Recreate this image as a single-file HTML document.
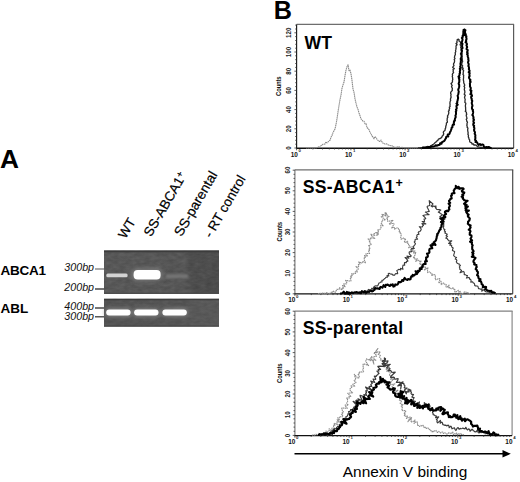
<!DOCTYPE html>
<html><head><meta charset="utf-8"><style>
html,body{margin:0;padding:0;background:#fff;overflow:hidden;}
svg{display:block;font-family:"Liberation Sans",sans-serif;}
</style></head><body>
<svg width="520" height="482" viewBox="0 0 520 482">
<rect width="520" height="482" fill="#fff"/>
<text x="0" y="168.2" font-size="26.3" font-weight="bold">A</text>
<text x="273.8" y="18.8" font-size="25.2" font-weight="bold">B</text>
<text transform="translate(125.6,239.5) rotate(-60)" font-size="13.4" fill="#000" stroke="#000" stroke-width="0.2">WT</text>
<text transform="translate(151.1,237.6) rotate(-60)" font-size="13.4" fill="#000" stroke="#000" stroke-width="0.2">SS-ABCA1<tspan dy="-3.8" font-size="9.5">+</tspan></text>
<text transform="translate(181.6,237.3) rotate(-60)" font-size="13.7" fill="#000" stroke="#000" stroke-width="0.2">SS-parental</text>
<text transform="translate(211.2,238.8) rotate(-60)" font-size="13.4" fill="#000" stroke="#000" stroke-width="0.2">- RT control</text>
<text x="0.6" y="275.2" font-size="13.5" font-weight="bold" letter-spacing="-0.3">ABCA1</text>
<text x="0.6" y="313.2" font-size="13.5" font-weight="bold" letter-spacing="-0.1">ABL</text>
<text x="64.3" y="271.2" font-size="10.7" font-style="italic" fill="#111">300bp</text>
<line x1="95" y1="269" x2="104" y2="269" stroke="#7a7a7a" stroke-width="1.3"/>
<text x="64.3" y="291.2" font-size="10.7" font-style="italic" fill="#111">200bp</text>
<line x1="95" y1="289" x2="104" y2="289" stroke="#2a2a2a" stroke-width="1.3"/>
<text x="64.3" y="309.6" font-size="10.7" font-style="italic" fill="#111">400bp</text>
<line x1="95" y1="308" x2="104" y2="308" stroke="#2a2a2a" stroke-width="1.3"/>
<text x="64.3" y="319.8" font-size="10.7" font-style="italic" fill="#111">300bp</text>
<line x1="95" y1="316.8" x2="104" y2="316.8" stroke="#3a3a3a" stroke-width="1.3"/>
<defs>
<filter id="b1" x="-50%" y="-100%" width="200%" height="300%"><feGaussianBlur stdDeviation="1.2"/></filter>
<filter id="b2" x="-50%" y="-100%" width="200%" height="300%"><feGaussianBlur stdDeviation="0.8"/></filter>
<filter id="b3" x="-50%" y="-100%" width="200%" height="300%"><feGaussianBlur stdDeviation="2"/></filter>
<filter id="tex" x="0" y="0" width="100%" height="100%" color-interpolation-filters="sRGB"><feTurbulence type="fractalNoise" baseFrequency="0.16 0.3" numOctaves="2" seed="11" result="n"/><feColorMatrix in="n" type="matrix" values="1 0 0 0 0  1 0 0 0 0  1 0 0 0 0  0 0 0 0 1"/></filter>
<filter id="b4" x="-50%" y="-100%" width="200%" height="300%"><feGaussianBlur stdDeviation="0.55"/></filter>
<linearGradient id="g1" x1="104" y1="0" x2="219" y2="0" gradientUnits="userSpaceOnUse">
<stop offset="0" stop-color="#545454"/><stop offset="0.7" stop-color="#525252"/><stop offset="0.76" stop-color="#494949"/><stop offset="1" stop-color="#484848"/></linearGradient>
<linearGradient id="g2" x1="104" y1="0" x2="219" y2="0" gradientUnits="userSpaceOnUse">
<stop offset="0" stop-color="#505050"/><stop offset="0.7" stop-color="#515151"/><stop offset="0.76" stop-color="#555"/><stop offset="1" stop-color="#565656"/></linearGradient>
</defs>
<rect x="104" y="250.5" width="115" height="43.3" fill="url(#g1)"/>
<rect x="104" y="250.5" width="115" height="43.3" filter="url(#tex)" opacity="0.09"/>
<rect x="104" y="250.5" width="115" height="1.8" fill="#3c3c3c"/>
<rect x="104" y="292.8" width="115" height="1" fill="#454545"/>
<rect x="104" y="298.8" width="115" height="27.8" fill="url(#g2)"/>
<rect x="104" y="298.8" width="115" height="27.8" filter="url(#tex)" opacity="0.07"/>
<rect x="104" y="298.8" width="115" height="1.4" fill="#3c3c3c"/>
<rect x="104" y="325.6" width="115" height="1" fill="#454545"/>
<rect x="106.3" y="273.5" width="21.3" height="3.7" rx="1.5" fill="#d2d2d2" filter="url(#b4)"/>
<rect x="131.5" y="268.5" width="31" height="12" rx="5" fill="#7a7a7a" filter="url(#b3)"/>
<rect x="133.6" y="270" width="27" height="9.5" rx="4" fill="#fff" filter="url(#b4)"/>
<rect x="165.5" y="274.2" width="23" height="4" rx="2" fill="#747474" filter="url(#b1)"/>
<rect x="105.2" y="308.5" width="26.5" height="8" rx="4" fill="#888" filter="url(#b3)"/>
<rect x="106.2" y="309.6" width="24.4" height="6" rx="3" fill="#fff" filter="url(#b4)"/>
<rect x="133.1" y="308.5" width="26.5" height="8" rx="4" fill="#888" filter="url(#b3)"/>
<rect x="134.1" y="309.6" width="24.4" height="6" rx="3" fill="#fff" filter="url(#b4)"/>
<rect x="161.4" y="308.5" width="26.5" height="8" rx="4" fill="#888" filter="url(#b3)"/>
<rect x="162.4" y="309.6" width="24.4" height="6" rx="3" fill="#fff" filter="url(#b4)"/>
<line x1="296.6" y1="24.4" x2="514.1" y2="24.4" stroke="#6e6e6e" stroke-width="1.25"/>
<line x1="513.6" y1="24.4" x2="513.6" y2="148.1" stroke="#5a5a5a" stroke-width="1.2"/>
<line x1="296.6" y1="24.4" x2="296.6" y2="148.1" stroke="#1a1a1a" stroke-width="1.15"/>
<line x1="296.1" y1="148.25" x2="513.6" y2="148.25" stroke="#111" stroke-width="1.35"/>
<line x1="294.4" y1="148.0" x2="296.6" y2="148.0" stroke="#333" stroke-width="0.8"/>
<line x1="295.2" y1="144.2" x2="296.6" y2="144.2" stroke="#333" stroke-width="0.8"/>
<line x1="295.2" y1="140.3" x2="296.6" y2="140.3" stroke="#333" stroke-width="0.8"/>
<line x1="295.2" y1="136.5" x2="296.6" y2="136.5" stroke="#333" stroke-width="0.8"/>
<line x1="295.2" y1="132.6" x2="296.6" y2="132.6" stroke="#333" stroke-width="0.8"/>
<line x1="294.4" y1="128.8" x2="296.6" y2="128.8" stroke="#333" stroke-width="0.8"/>
<line x1="295.2" y1="125.0" x2="296.6" y2="125.0" stroke="#333" stroke-width="0.8"/>
<line x1="295.2" y1="121.1" x2="296.6" y2="121.1" stroke="#333" stroke-width="0.8"/>
<line x1="295.2" y1="117.3" x2="296.6" y2="117.3" stroke="#333" stroke-width="0.8"/>
<line x1="295.2" y1="113.4" x2="296.6" y2="113.4" stroke="#333" stroke-width="0.8"/>
<line x1="294.4" y1="109.6" x2="296.6" y2="109.6" stroke="#333" stroke-width="0.8"/>
<line x1="295.2" y1="105.8" x2="296.6" y2="105.8" stroke="#333" stroke-width="0.8"/>
<line x1="295.2" y1="101.9" x2="296.6" y2="101.9" stroke="#333" stroke-width="0.8"/>
<line x1="295.2" y1="98.1" x2="296.6" y2="98.1" stroke="#333" stroke-width="0.8"/>
<line x1="295.2" y1="94.2" x2="296.6" y2="94.2" stroke="#333" stroke-width="0.8"/>
<line x1="294.4" y1="90.4" x2="296.6" y2="90.4" stroke="#333" stroke-width="0.8"/>
<line x1="295.2" y1="86.6" x2="296.6" y2="86.6" stroke="#333" stroke-width="0.8"/>
<line x1="295.2" y1="82.7" x2="296.6" y2="82.7" stroke="#333" stroke-width="0.8"/>
<line x1="295.2" y1="78.9" x2="296.6" y2="78.9" stroke="#333" stroke-width="0.8"/>
<line x1="295.2" y1="75.0" x2="296.6" y2="75.0" stroke="#333" stroke-width="0.8"/>
<line x1="294.4" y1="71.2" x2="296.6" y2="71.2" stroke="#333" stroke-width="0.8"/>
<line x1="295.2" y1="67.4" x2="296.6" y2="67.4" stroke="#333" stroke-width="0.8"/>
<line x1="295.2" y1="63.5" x2="296.6" y2="63.5" stroke="#333" stroke-width="0.8"/>
<line x1="295.2" y1="59.7" x2="296.6" y2="59.7" stroke="#333" stroke-width="0.8"/>
<line x1="295.2" y1="55.8" x2="296.6" y2="55.8" stroke="#333" stroke-width="0.8"/>
<line x1="294.4" y1="52.0" x2="296.6" y2="52.0" stroke="#333" stroke-width="0.8"/>
<line x1="295.2" y1="48.2" x2="296.6" y2="48.2" stroke="#333" stroke-width="0.8"/>
<line x1="295.2" y1="44.3" x2="296.6" y2="44.3" stroke="#333" stroke-width="0.8"/>
<line x1="295.2" y1="40.5" x2="296.6" y2="40.5" stroke="#333" stroke-width="0.8"/>
<line x1="295.2" y1="36.6" x2="296.6" y2="36.6" stroke="#333" stroke-width="0.8"/>
<line x1="294.4" y1="32.8" x2="296.6" y2="32.8" stroke="#333" stroke-width="0.8"/>
<line x1="295.2" y1="29.0" x2="296.6" y2="29.0" stroke="#333" stroke-width="0.8"/>
<line x1="295.2" y1="25.1" x2="296.6" y2="25.1" stroke="#333" stroke-width="0.8"/>
<text transform="translate(290.5,148.0) rotate(-90) scale(1,1.2)" text-anchor="middle" font-size="6.2" font-weight="bold" fill="#222">0</text>
<text transform="translate(290.5,128.8) rotate(-90) scale(1,1.2)" text-anchor="middle" font-size="6.2" font-weight="bold" fill="#222">20</text>
<text transform="translate(290.5,109.6) rotate(-90) scale(1,1.2)" text-anchor="middle" font-size="6.2" font-weight="bold" fill="#222">40</text>
<text transform="translate(290.5,90.4) rotate(-90) scale(1,1.2)" text-anchor="middle" font-size="6.2" font-weight="bold" fill="#222">60</text>
<text transform="translate(290.5,71.2) rotate(-90) scale(1,1.2)" text-anchor="middle" font-size="6.2" font-weight="bold" fill="#222">80</text>
<text transform="translate(290.5,52.0) rotate(-90) scale(1,1.2)" text-anchor="middle" font-size="6.2" font-weight="bold" fill="#222">100</text>
<text transform="translate(290.5,32.8) rotate(-90) scale(1,1.2)" text-anchor="middle" font-size="6.2" font-weight="bold" fill="#222">120</text>
<text transform="translate(280.8,86.2) rotate(-90) scale(1,1.3)" text-anchor="middle" font-size="5.9" font-weight="bold" letter-spacing="-0.15" fill="#111">Counts</text>
<line x1="296.6" y1="148.1" x2="296.6" y2="150.29999999999998" stroke="#333" stroke-width="0.8"/>
<line x1="312.9" y1="148.1" x2="312.9" y2="149.5" stroke="#333" stroke-width="0.8"/>
<line x1="322.5" y1="148.1" x2="322.5" y2="149.5" stroke="#333" stroke-width="0.8"/>
<line x1="329.3" y1="148.1" x2="329.3" y2="149.5" stroke="#333" stroke-width="0.8"/>
<line x1="334.5" y1="148.1" x2="334.5" y2="149.5" stroke="#333" stroke-width="0.8"/>
<line x1="338.8" y1="148.1" x2="338.8" y2="149.5" stroke="#333" stroke-width="0.8"/>
<line x1="342.4" y1="148.1" x2="342.4" y2="149.5" stroke="#333" stroke-width="0.8"/>
<line x1="345.6" y1="148.1" x2="345.6" y2="149.5" stroke="#333" stroke-width="0.8"/>
<line x1="348.4" y1="148.1" x2="348.4" y2="149.5" stroke="#333" stroke-width="0.8"/>
<line x1="350.9" y1="148.1" x2="350.9" y2="150.29999999999998" stroke="#333" stroke-width="0.8"/>
<line x1="367.2" y1="148.1" x2="367.2" y2="149.5" stroke="#333" stroke-width="0.8"/>
<line x1="376.7" y1="148.1" x2="376.7" y2="149.5" stroke="#333" stroke-width="0.8"/>
<line x1="383.5" y1="148.1" x2="383.5" y2="149.5" stroke="#333" stroke-width="0.8"/>
<line x1="388.8" y1="148.1" x2="388.8" y2="149.5" stroke="#333" stroke-width="0.8"/>
<line x1="393.1" y1="148.1" x2="393.1" y2="149.5" stroke="#333" stroke-width="0.8"/>
<line x1="396.7" y1="148.1" x2="396.7" y2="149.5" stroke="#333" stroke-width="0.8"/>
<line x1="399.8" y1="148.1" x2="399.8" y2="149.5" stroke="#333" stroke-width="0.8"/>
<line x1="402.6" y1="148.1" x2="402.6" y2="149.5" stroke="#333" stroke-width="0.8"/>
<line x1="405.1" y1="148.1" x2="405.1" y2="150.29999999999998" stroke="#333" stroke-width="0.8"/>
<line x1="421.4" y1="148.1" x2="421.4" y2="149.5" stroke="#333" stroke-width="0.8"/>
<line x1="431.0" y1="148.1" x2="431.0" y2="149.5" stroke="#333" stroke-width="0.8"/>
<line x1="437.8" y1="148.1" x2="437.8" y2="149.5" stroke="#333" stroke-width="0.8"/>
<line x1="443.0" y1="148.1" x2="443.0" y2="149.5" stroke="#333" stroke-width="0.8"/>
<line x1="447.3" y1="148.1" x2="447.3" y2="149.5" stroke="#333" stroke-width="0.8"/>
<line x1="450.9" y1="148.1" x2="450.9" y2="149.5" stroke="#333" stroke-width="0.8"/>
<line x1="454.1" y1="148.1" x2="454.1" y2="149.5" stroke="#333" stroke-width="0.8"/>
<line x1="456.9" y1="148.1" x2="456.9" y2="149.5" stroke="#333" stroke-width="0.8"/>
<line x1="459.4" y1="148.1" x2="459.4" y2="150.29999999999998" stroke="#333" stroke-width="0.8"/>
<line x1="475.7" y1="148.1" x2="475.7" y2="149.5" stroke="#333" stroke-width="0.8"/>
<line x1="485.2" y1="148.1" x2="485.2" y2="149.5" stroke="#333" stroke-width="0.8"/>
<line x1="492.0" y1="148.1" x2="492.0" y2="149.5" stroke="#333" stroke-width="0.8"/>
<line x1="497.3" y1="148.1" x2="497.3" y2="149.5" stroke="#333" stroke-width="0.8"/>
<line x1="501.6" y1="148.1" x2="501.6" y2="149.5" stroke="#333" stroke-width="0.8"/>
<line x1="505.2" y1="148.1" x2="505.2" y2="149.5" stroke="#333" stroke-width="0.8"/>
<line x1="508.3" y1="148.1" x2="508.3" y2="149.5" stroke="#333" stroke-width="0.8"/>
<line x1="511.1" y1="148.1" x2="511.1" y2="149.5" stroke="#333" stroke-width="0.8"/>
<text x="294.2" y="156.7" text-anchor="middle" font-size="6.4" font-weight="bold" fill="#111">10</text><text x="298.6" y="152.0" font-size="4.3" font-weight="bold" fill="#222">0</text>
<text x="348.5" y="156.7" text-anchor="middle" font-size="6.4" font-weight="bold" fill="#111">10</text><text x="352.9" y="152.0" font-size="4.3" font-weight="bold" fill="#222">1</text>
<text x="402.7" y="156.7" text-anchor="middle" font-size="6.4" font-weight="bold" fill="#111">10</text><text x="407.1" y="152.0" font-size="4.3" font-weight="bold" fill="#222">2</text>
<text x="457.0" y="156.7" text-anchor="middle" font-size="6.4" font-weight="bold" fill="#111">10</text><text x="461.4" y="152.0" font-size="4.3" font-weight="bold" fill="#222">3</text>
<text x="511.2" y="156.7" text-anchor="middle" font-size="6.4" font-weight="bold" fill="#111">10</text><text x="515.6" y="152.0" font-size="4.3" font-weight="bold" fill="#222">4</text>
<text x="304.4" y="48.7" font-size="17.6" font-weight="bold" letter-spacing="0.28" fill="#000">WT</text>
<line x1="294.9" y1="169.8" x2="513.2" y2="169.8" stroke="#6e6e6e" stroke-width="1.25"/>
<line x1="512.7" y1="169.8" x2="512.7" y2="293.7" stroke="#4a4a4a" stroke-width="1.2"/>
<line x1="294.9" y1="169.8" x2="294.9" y2="293.7" stroke="#777" stroke-width="1.15"/>
<line x1="294.4" y1="293.84999999999997" x2="512.7" y2="293.84999999999997" stroke="#111" stroke-width="1.35"/>
<line x1="292.7" y1="293.8" x2="294.9" y2="293.8" stroke="#333" stroke-width="0.8"/>
<line x1="293.5" y1="289.7" x2="294.9" y2="289.7" stroke="#333" stroke-width="0.8"/>
<line x1="293.5" y1="285.6" x2="294.9" y2="285.6" stroke="#333" stroke-width="0.8"/>
<line x1="293.5" y1="281.4" x2="294.9" y2="281.4" stroke="#333" stroke-width="0.8"/>
<line x1="293.5" y1="277.3" x2="294.9" y2="277.3" stroke="#333" stroke-width="0.8"/>
<line x1="292.7" y1="273.2" x2="294.9" y2="273.2" stroke="#333" stroke-width="0.8"/>
<line x1="293.5" y1="269.1" x2="294.9" y2="269.1" stroke="#333" stroke-width="0.8"/>
<line x1="293.5" y1="265.0" x2="294.9" y2="265.0" stroke="#333" stroke-width="0.8"/>
<line x1="293.5" y1="260.8" x2="294.9" y2="260.8" stroke="#333" stroke-width="0.8"/>
<line x1="293.5" y1="256.7" x2="294.9" y2="256.7" stroke="#333" stroke-width="0.8"/>
<line x1="292.7" y1="252.6" x2="294.9" y2="252.6" stroke="#333" stroke-width="0.8"/>
<line x1="293.5" y1="248.5" x2="294.9" y2="248.5" stroke="#333" stroke-width="0.8"/>
<line x1="293.5" y1="244.4" x2="294.9" y2="244.4" stroke="#333" stroke-width="0.8"/>
<line x1="293.5" y1="240.2" x2="294.9" y2="240.2" stroke="#333" stroke-width="0.8"/>
<line x1="293.5" y1="236.1" x2="294.9" y2="236.1" stroke="#333" stroke-width="0.8"/>
<line x1="292.7" y1="232.0" x2="294.9" y2="232.0" stroke="#333" stroke-width="0.8"/>
<line x1="293.5" y1="227.9" x2="294.9" y2="227.9" stroke="#333" stroke-width="0.8"/>
<line x1="293.5" y1="223.8" x2="294.9" y2="223.8" stroke="#333" stroke-width="0.8"/>
<line x1="293.5" y1="219.6" x2="294.9" y2="219.6" stroke="#333" stroke-width="0.8"/>
<line x1="293.5" y1="215.5" x2="294.9" y2="215.5" stroke="#333" stroke-width="0.8"/>
<line x1="292.7" y1="211.4" x2="294.9" y2="211.4" stroke="#333" stroke-width="0.8"/>
<line x1="293.5" y1="207.3" x2="294.9" y2="207.3" stroke="#333" stroke-width="0.8"/>
<line x1="293.5" y1="203.2" x2="294.9" y2="203.2" stroke="#333" stroke-width="0.8"/>
<line x1="293.5" y1="199.0" x2="294.9" y2="199.0" stroke="#333" stroke-width="0.8"/>
<line x1="293.5" y1="194.9" x2="294.9" y2="194.9" stroke="#333" stroke-width="0.8"/>
<line x1="292.7" y1="190.8" x2="294.9" y2="190.8" stroke="#333" stroke-width="0.8"/>
<line x1="293.5" y1="186.7" x2="294.9" y2="186.7" stroke="#333" stroke-width="0.8"/>
<line x1="293.5" y1="182.6" x2="294.9" y2="182.6" stroke="#333" stroke-width="0.8"/>
<line x1="293.5" y1="178.4" x2="294.9" y2="178.4" stroke="#333" stroke-width="0.8"/>
<line x1="293.5" y1="174.3" x2="294.9" y2="174.3" stroke="#333" stroke-width="0.8"/>
<line x1="292.7" y1="170.2" x2="294.9" y2="170.2" stroke="#333" stroke-width="0.8"/>
<text transform="translate(290.3,293.8) rotate(-90) scale(1,1.2)" text-anchor="middle" font-size="6.2" font-weight="bold" fill="#222">0</text>
<text transform="translate(290.3,273.2) rotate(-90) scale(1,1.2)" text-anchor="middle" font-size="6.2" font-weight="bold" fill="#222">10</text>
<text transform="translate(290.3,252.5) rotate(-90) scale(1,1.2)" text-anchor="middle" font-size="6.2" font-weight="bold" fill="#222">20</text>
<text transform="translate(290.3,231.9) rotate(-90) scale(1,1.2)" text-anchor="middle" font-size="6.2" font-weight="bold" fill="#222">30</text>
<text transform="translate(290.3,211.3) rotate(-90) scale(1,1.2)" text-anchor="middle" font-size="6.2" font-weight="bold" fill="#222">40</text>
<text transform="translate(290.3,190.6) rotate(-90) scale(1,1.2)" text-anchor="middle" font-size="6.2" font-weight="bold" fill="#222">50</text>
<text transform="translate(290.3,170.0) rotate(-90) scale(1,1.2)" text-anchor="middle" font-size="6.2" font-weight="bold" fill="#222">60</text>
<text transform="translate(281.8,231.8) rotate(-90) scale(1,1.3)" text-anchor="middle" font-size="5.9" font-weight="bold" letter-spacing="-0.15" fill="#111">Counts</text>
<line x1="294.9" y1="293.7" x2="294.9" y2="295.9" stroke="#333" stroke-width="0.8"/>
<line x1="311.3" y1="293.7" x2="311.3" y2="295.09999999999997" stroke="#333" stroke-width="0.8"/>
<line x1="320.9" y1="293.7" x2="320.9" y2="295.09999999999997" stroke="#333" stroke-width="0.8"/>
<line x1="327.7" y1="293.7" x2="327.7" y2="295.09999999999997" stroke="#333" stroke-width="0.8"/>
<line x1="333.0" y1="293.7" x2="333.0" y2="295.09999999999997" stroke="#333" stroke-width="0.8"/>
<line x1="337.3" y1="293.7" x2="337.3" y2="295.09999999999997" stroke="#333" stroke-width="0.8"/>
<line x1="340.9" y1="293.7" x2="340.9" y2="295.09999999999997" stroke="#333" stroke-width="0.8"/>
<line x1="344.1" y1="293.7" x2="344.1" y2="295.09999999999997" stroke="#333" stroke-width="0.8"/>
<line x1="346.9" y1="293.7" x2="346.9" y2="295.09999999999997" stroke="#333" stroke-width="0.8"/>
<line x1="349.4" y1="293.7" x2="349.4" y2="295.9" stroke="#333" stroke-width="0.8"/>
<line x1="365.7" y1="293.7" x2="365.7" y2="295.09999999999997" stroke="#333" stroke-width="0.8"/>
<line x1="375.3" y1="293.7" x2="375.3" y2="295.09999999999997" stroke="#333" stroke-width="0.8"/>
<line x1="382.1" y1="293.7" x2="382.1" y2="295.09999999999997" stroke="#333" stroke-width="0.8"/>
<line x1="387.4" y1="293.7" x2="387.4" y2="295.09999999999997" stroke="#333" stroke-width="0.8"/>
<line x1="391.7" y1="293.7" x2="391.7" y2="295.09999999999997" stroke="#333" stroke-width="0.8"/>
<line x1="395.4" y1="293.7" x2="395.4" y2="295.09999999999997" stroke="#333" stroke-width="0.8"/>
<line x1="398.5" y1="293.7" x2="398.5" y2="295.09999999999997" stroke="#333" stroke-width="0.8"/>
<line x1="401.3" y1="293.7" x2="401.3" y2="295.09999999999997" stroke="#333" stroke-width="0.8"/>
<line x1="403.8" y1="293.7" x2="403.8" y2="295.9" stroke="#333" stroke-width="0.8"/>
<line x1="420.2" y1="293.7" x2="420.2" y2="295.09999999999997" stroke="#333" stroke-width="0.8"/>
<line x1="429.8" y1="293.7" x2="429.8" y2="295.09999999999997" stroke="#333" stroke-width="0.8"/>
<line x1="436.6" y1="293.7" x2="436.6" y2="295.09999999999997" stroke="#333" stroke-width="0.8"/>
<line x1="441.9" y1="293.7" x2="441.9" y2="295.09999999999997" stroke="#333" stroke-width="0.8"/>
<line x1="446.2" y1="293.7" x2="446.2" y2="295.09999999999997" stroke="#333" stroke-width="0.8"/>
<line x1="449.8" y1="293.7" x2="449.8" y2="295.09999999999997" stroke="#333" stroke-width="0.8"/>
<line x1="453.0" y1="293.7" x2="453.0" y2="295.09999999999997" stroke="#333" stroke-width="0.8"/>
<line x1="455.8" y1="293.7" x2="455.8" y2="295.09999999999997" stroke="#333" stroke-width="0.8"/>
<line x1="458.2" y1="293.7" x2="458.2" y2="295.9" stroke="#333" stroke-width="0.8"/>
<line x1="474.6" y1="293.7" x2="474.6" y2="295.09999999999997" stroke="#333" stroke-width="0.8"/>
<line x1="484.2" y1="293.7" x2="484.2" y2="295.09999999999997" stroke="#333" stroke-width="0.8"/>
<line x1="491.0" y1="293.7" x2="491.0" y2="295.09999999999997" stroke="#333" stroke-width="0.8"/>
<line x1="496.3" y1="293.7" x2="496.3" y2="295.09999999999997" stroke="#333" stroke-width="0.8"/>
<line x1="500.6" y1="293.7" x2="500.6" y2="295.09999999999997" stroke="#333" stroke-width="0.8"/>
<line x1="504.3" y1="293.7" x2="504.3" y2="295.09999999999997" stroke="#333" stroke-width="0.8"/>
<line x1="507.4" y1="293.7" x2="507.4" y2="295.09999999999997" stroke="#333" stroke-width="0.8"/>
<line x1="510.2" y1="293.7" x2="510.2" y2="295.09999999999997" stroke="#333" stroke-width="0.8"/>
<text x="291.7" y="302.3" text-anchor="middle" font-size="6.4" font-weight="bold" fill="#111">10</text><text x="296.1" y="297.6" font-size="4.3" font-weight="bold" fill="#222">0</text>
<text x="346.2" y="302.3" text-anchor="middle" font-size="6.4" font-weight="bold" fill="#111">10</text><text x="350.6" y="297.6" font-size="4.3" font-weight="bold" fill="#222">1</text>
<text x="400.6" y="302.3" text-anchor="middle" font-size="6.4" font-weight="bold" fill="#111">10</text><text x="405.0" y="297.6" font-size="4.3" font-weight="bold" fill="#222">2</text>
<text x="455.1" y="302.3" text-anchor="middle" font-size="6.4" font-weight="bold" fill="#111">10</text><text x="459.4" y="297.6" font-size="4.3" font-weight="bold" fill="#222">3</text>
<text x="509.5" y="302.3" text-anchor="middle" font-size="6.4" font-weight="bold" fill="#111">10</text><text x="513.9" y="297.6" font-size="4.3" font-weight="bold" fill="#222">4</text>
<text x="302.7" y="193.0" font-size="17.6" font-weight="bold" letter-spacing="0.28" fill="#000">SS-ABCA1<tspan dy="-6.2" font-size="12.5" dx="0.6">+</tspan></text>
<line x1="294.9" y1="311" x2="512.6" y2="311" stroke="#808080" stroke-width="1.25"/>
<line x1="512.1" y1="311" x2="512.1" y2="435.5" stroke="#8a8a8a" stroke-width="1.2"/>
<line x1="294.9" y1="311" x2="294.9" y2="435.5" stroke="#777" stroke-width="1.15"/>
<line x1="294.4" y1="435.65" x2="512.1" y2="435.65" stroke="#111" stroke-width="1.35"/>
<line x1="292.7" y1="435.4" x2="294.9" y2="435.4" stroke="#333" stroke-width="0.8"/>
<line x1="293.5" y1="431.3" x2="294.9" y2="431.3" stroke="#333" stroke-width="0.8"/>
<line x1="293.5" y1="427.1" x2="294.9" y2="427.1" stroke="#333" stroke-width="0.8"/>
<line x1="293.5" y1="423.0" x2="294.9" y2="423.0" stroke="#333" stroke-width="0.8"/>
<line x1="293.5" y1="418.8" x2="294.9" y2="418.8" stroke="#333" stroke-width="0.8"/>
<line x1="292.7" y1="414.7" x2="294.9" y2="414.7" stroke="#333" stroke-width="0.8"/>
<line x1="293.5" y1="410.6" x2="294.9" y2="410.6" stroke="#333" stroke-width="0.8"/>
<line x1="293.5" y1="406.4" x2="294.9" y2="406.4" stroke="#333" stroke-width="0.8"/>
<line x1="293.5" y1="402.3" x2="294.9" y2="402.3" stroke="#333" stroke-width="0.8"/>
<line x1="293.5" y1="398.1" x2="294.9" y2="398.1" stroke="#333" stroke-width="0.8"/>
<line x1="292.7" y1="394.0" x2="294.9" y2="394.0" stroke="#333" stroke-width="0.8"/>
<line x1="293.5" y1="389.9" x2="294.9" y2="389.9" stroke="#333" stroke-width="0.8"/>
<line x1="293.5" y1="385.7" x2="294.9" y2="385.7" stroke="#333" stroke-width="0.8"/>
<line x1="293.5" y1="381.6" x2="294.9" y2="381.6" stroke="#333" stroke-width="0.8"/>
<line x1="293.5" y1="377.4" x2="294.9" y2="377.4" stroke="#333" stroke-width="0.8"/>
<line x1="292.7" y1="373.3" x2="294.9" y2="373.3" stroke="#333" stroke-width="0.8"/>
<line x1="293.5" y1="369.2" x2="294.9" y2="369.2" stroke="#333" stroke-width="0.8"/>
<line x1="293.5" y1="365.0" x2="294.9" y2="365.0" stroke="#333" stroke-width="0.8"/>
<line x1="293.5" y1="360.9" x2="294.9" y2="360.9" stroke="#333" stroke-width="0.8"/>
<line x1="293.5" y1="356.7" x2="294.9" y2="356.7" stroke="#333" stroke-width="0.8"/>
<line x1="292.7" y1="352.6" x2="294.9" y2="352.6" stroke="#333" stroke-width="0.8"/>
<line x1="293.5" y1="348.5" x2="294.9" y2="348.5" stroke="#333" stroke-width="0.8"/>
<line x1="293.5" y1="344.3" x2="294.9" y2="344.3" stroke="#333" stroke-width="0.8"/>
<line x1="293.5" y1="340.2" x2="294.9" y2="340.2" stroke="#333" stroke-width="0.8"/>
<line x1="293.5" y1="336.0" x2="294.9" y2="336.0" stroke="#333" stroke-width="0.8"/>
<line x1="292.7" y1="331.9" x2="294.9" y2="331.9" stroke="#333" stroke-width="0.8"/>
<line x1="293.5" y1="327.8" x2="294.9" y2="327.8" stroke="#333" stroke-width="0.8"/>
<line x1="293.5" y1="323.6" x2="294.9" y2="323.6" stroke="#333" stroke-width="0.8"/>
<line x1="293.5" y1="319.5" x2="294.9" y2="319.5" stroke="#333" stroke-width="0.8"/>
<line x1="293.5" y1="315.3" x2="294.9" y2="315.3" stroke="#333" stroke-width="0.8"/>
<line x1="292.7" y1="311.2" x2="294.9" y2="311.2" stroke="#333" stroke-width="0.8"/>
<text transform="translate(290.3,435.4) rotate(-90) scale(1,1.2)" text-anchor="middle" font-size="6.2" font-weight="bold" fill="#222">0</text>
<text transform="translate(290.3,414.7) rotate(-90) scale(1,1.2)" text-anchor="middle" font-size="6.2" font-weight="bold" fill="#222">10</text>
<text transform="translate(290.3,394.1) rotate(-90) scale(1,1.2)" text-anchor="middle" font-size="6.2" font-weight="bold" fill="#222">20</text>
<text transform="translate(290.3,373.4) rotate(-90) scale(1,1.2)" text-anchor="middle" font-size="6.2" font-weight="bold" fill="#222">30</text>
<text transform="translate(290.3,352.7) rotate(-90) scale(1,1.2)" text-anchor="middle" font-size="6.2" font-weight="bold" fill="#222">40</text>
<text transform="translate(290.3,332.1) rotate(-90) scale(1,1.2)" text-anchor="middle" font-size="6.2" font-weight="bold" fill="#222">50</text>
<text transform="translate(290.3,311.4) rotate(-90) scale(1,1.2)" text-anchor="middle" font-size="6.2" font-weight="bold" fill="#222">60</text>
<text transform="translate(281.8,373.2) rotate(-90) scale(1,1.3)" text-anchor="middle" font-size="5.9" font-weight="bold" letter-spacing="-0.15" fill="#111">Counts</text>
<line x1="294.9" y1="435.5" x2="294.9" y2="437.7" stroke="#333" stroke-width="0.8"/>
<line x1="311.2" y1="435.5" x2="311.2" y2="436.9" stroke="#333" stroke-width="0.8"/>
<line x1="320.8" y1="435.5" x2="320.8" y2="436.9" stroke="#333" stroke-width="0.8"/>
<line x1="327.6" y1="435.5" x2="327.6" y2="436.9" stroke="#333" stroke-width="0.8"/>
<line x1="332.9" y1="435.5" x2="332.9" y2="436.9" stroke="#333" stroke-width="0.8"/>
<line x1="337.2" y1="435.5" x2="337.2" y2="436.9" stroke="#333" stroke-width="0.8"/>
<line x1="340.8" y1="435.5" x2="340.8" y2="436.9" stroke="#333" stroke-width="0.8"/>
<line x1="343.9" y1="435.5" x2="343.9" y2="436.9" stroke="#333" stroke-width="0.8"/>
<line x1="346.7" y1="435.5" x2="346.7" y2="436.9" stroke="#333" stroke-width="0.8"/>
<line x1="349.2" y1="435.5" x2="349.2" y2="437.7" stroke="#333" stroke-width="0.8"/>
<line x1="365.5" y1="435.5" x2="365.5" y2="436.9" stroke="#333" stroke-width="0.8"/>
<line x1="375.1" y1="435.5" x2="375.1" y2="436.9" stroke="#333" stroke-width="0.8"/>
<line x1="381.9" y1="435.5" x2="381.9" y2="436.9" stroke="#333" stroke-width="0.8"/>
<line x1="387.2" y1="435.5" x2="387.2" y2="436.9" stroke="#333" stroke-width="0.8"/>
<line x1="391.5" y1="435.5" x2="391.5" y2="436.9" stroke="#333" stroke-width="0.8"/>
<line x1="395.1" y1="435.5" x2="395.1" y2="436.9" stroke="#333" stroke-width="0.8"/>
<line x1="398.2" y1="435.5" x2="398.2" y2="436.9" stroke="#333" stroke-width="0.8"/>
<line x1="401.0" y1="435.5" x2="401.0" y2="436.9" stroke="#333" stroke-width="0.8"/>
<line x1="403.5" y1="435.5" x2="403.5" y2="437.7" stroke="#333" stroke-width="0.8"/>
<line x1="419.8" y1="435.5" x2="419.8" y2="436.9" stroke="#333" stroke-width="0.8"/>
<line x1="429.4" y1="435.5" x2="429.4" y2="436.9" stroke="#333" stroke-width="0.8"/>
<line x1="436.2" y1="435.5" x2="436.2" y2="436.9" stroke="#333" stroke-width="0.8"/>
<line x1="441.5" y1="435.5" x2="441.5" y2="436.9" stroke="#333" stroke-width="0.8"/>
<line x1="445.8" y1="435.5" x2="445.8" y2="436.9" stroke="#333" stroke-width="0.8"/>
<line x1="449.4" y1="435.5" x2="449.4" y2="436.9" stroke="#333" stroke-width="0.8"/>
<line x1="452.5" y1="435.5" x2="452.5" y2="436.9" stroke="#333" stroke-width="0.8"/>
<line x1="455.3" y1="435.5" x2="455.3" y2="436.9" stroke="#333" stroke-width="0.8"/>
<line x1="457.8" y1="435.5" x2="457.8" y2="437.7" stroke="#333" stroke-width="0.8"/>
<line x1="474.1" y1="435.5" x2="474.1" y2="436.9" stroke="#333" stroke-width="0.8"/>
<line x1="483.7" y1="435.5" x2="483.7" y2="436.9" stroke="#333" stroke-width="0.8"/>
<line x1="490.5" y1="435.5" x2="490.5" y2="436.9" stroke="#333" stroke-width="0.8"/>
<line x1="495.8" y1="435.5" x2="495.8" y2="436.9" stroke="#333" stroke-width="0.8"/>
<line x1="500.1" y1="435.5" x2="500.1" y2="436.9" stroke="#333" stroke-width="0.8"/>
<line x1="503.7" y1="435.5" x2="503.7" y2="436.9" stroke="#333" stroke-width="0.8"/>
<line x1="506.8" y1="435.5" x2="506.8" y2="436.9" stroke="#333" stroke-width="0.8"/>
<line x1="509.6" y1="435.5" x2="509.6" y2="436.9" stroke="#333" stroke-width="0.8"/>
<text x="291.7" y="444.1" text-anchor="middle" font-size="6.4" font-weight="bold" fill="#111">10</text><text x="296.1" y="439.4" font-size="4.3" font-weight="bold" fill="#222">0</text>
<text x="346.0" y="444.1" text-anchor="middle" font-size="6.4" font-weight="bold" fill="#111">10</text><text x="350.4" y="439.4" font-size="4.3" font-weight="bold" fill="#222">1</text>
<text x="400.3" y="444.1" text-anchor="middle" font-size="6.4" font-weight="bold" fill="#111">10</text><text x="404.7" y="439.4" font-size="4.3" font-weight="bold" fill="#222">2</text>
<text x="454.6" y="444.1" text-anchor="middle" font-size="6.4" font-weight="bold" fill="#111">10</text><text x="459.0" y="439.4" font-size="4.3" font-weight="bold" fill="#222">3</text>
<text x="508.9" y="444.1" text-anchor="middle" font-size="6.4" font-weight="bold" fill="#111">10</text><text x="513.3" y="439.4" font-size="4.3" font-weight="bold" fill="#222">4</text>
<text x="302.7" y="334.2" font-size="17.6" font-weight="bold" letter-spacing="0.28" fill="#000">SS-parental</text>
<path d="M306.0 148.0 L307.0 148.0 L308.0 148.0 L309.0 148.0 L310.0 148.0 L311.0 148.0 L312.0 148.0 L313.0 148.0 L314.0 148.0 L315.0 148.0 L316.0 148.0 L317.0 147.6 L318.0 147.2 L319.0 146.8 L320.0 147.5 L321.0 145.5 L322.0 145.4 L323.0 144.2 L324.0 144.2 L325.0 143.9 L326.0 141.9 L327.0 142.9 L328.0 141.9 L329.0 140.8 L330.0 140.3 L331.0 137.2 L332.0 135.5 L333.0 132.6 L334.0 130.7 L335.0 129.0 L336.0 124.5 L337.0 118.7 L338.0 112.0 L339.0 105.5 L340.0 99.6 L341.0 95.1 L342.0 88.3 L343.0 84.9 L344.0 82.0 L345.0 75.6 L346.0 70.2 L347.0 66.6 L348.0 64.8 L349.0 70.7 L350.0 70.1 L351.0 73.8 L352.0 80.5 L353.0 89.1 L354.0 92.3 L355.0 98.8 L356.0 103.1 L357.0 107.1 L358.0 109.3 L359.0 112.9 L360.0 115.8 L361.0 118.8 L362.0 120.0 L363.0 121.1 L364.0 121.3 L365.0 123.7 L366.0 123.6 L367.0 127.5 L368.0 128.5 L369.0 129.6 L370.0 132.3 L371.0 133.7 L372.0 135.9 L373.0 137.2 L374.0 138.8 L375.0 136.6 L376.0 137.6 L377.0 139.3 L378.0 140.3 L379.0 141.4 L380.0 141.4 L381.0 140.0 L382.0 141.9 L383.0 143.3 L384.0 143.3 L385.0 144.1 L386.0 143.7 L387.0 144.1 L388.0 144.8 L389.0 145.3 L390.0 145.5 L391.0 145.9 L392.0 145.7 L393.0 146.8 L394.0 146.7 L395.0 147.4 L396.0 147.6 L397.0 147.0 L398.0 146.8 L399.0 146.7 L400.0 147.5 L401.0 147.4 L402.0 147.2 L403.0 147.5 L404.0 147.6 L405.0 147.8 L406.0 147.7 L407.0 147.9 L408.0 147.9 L409.0 147.9 L410.0 147.9 L411.0 148.0 L412.0 148.0 L413.0 148.0 L414.0 148.0 L415.0 148.0 L416.0 148.0 L417.0 148.0 L418.0 148.0 L419.0 148.0 L420.0 148.0" fill="none" stroke="#8a8a8a" stroke-width="1.1" stroke-linejoin="round" stroke-dasharray="1.5 0.5"/>
<path d="M418.0 148.0 L419.0 147.9 L420.0 147.8 L421.0 147.6 L422.0 147.8 L422.9 147.0 L424.0 147.3 L424.9 147.2 L426.0 147.4 L426.9 146.8 L427.8 146.4 L429.0 146.8 L429.9 146.6 L430.7 145.7 L431.8 145.5 L432.4 144.7 L433.3 144.3 L434.2 143.7 L434.7 142.8 L435.7 142.5 L436.2 141.5 L437.0 140.9 L437.9 140.4 L438.3 139.3 L439.1 138.8 L440.2 138.5 L441.1 137.9 L441.8 137.3 L442.1 136.2 L442.8 135.5 L443.5 134.7 L443.7 133.7 L443.3 132.4 L443.6 131.5 L444.6 130.8 L445.2 129.9 L445.1 128.9 L445.7 128.0 L445.7 126.9 L445.9 126.0 L446.2 125.0 L446.4 124.0 L446.4 123.0 L447.4 122.2 L447.3 121.1 L447.0 120.1 L447.3 119.1 L447.2 118.1 L447.9 117.2 L447.4 116.1 L448.0 115.2 L448.5 114.2 L448.7 113.3 L448.8 112.3 L448.4 111.2 L449.3 110.3 L449.1 109.3 L449.7 108.4 L449.3 107.3 L450.2 106.4 L449.9 105.3 L450.1 104.4 L449.9 103.3 L450.0 102.3 L450.2 101.3 L450.7 100.4 L450.4 99.4 L450.6 98.4 L451.1 97.4 L451.0 96.4 L450.8 95.4 L451.1 94.4 L450.6 93.4 L450.7 92.4 L451.4 91.4 L452.3 90.5 L452.2 89.5 L452.4 88.5 L451.8 87.4 L451.5 86.4 L452.2 85.5 L451.5 84.4 L451.0 83.4 L452.2 82.4 L452.5 81.5 L452.4 80.5 L452.8 79.5 L452.6 78.5 L452.6 77.5 L452.2 76.4 L452.6 75.5 L452.3 74.4 L452.7 73.5 L453.6 72.6 L453.1 71.5 L453.3 70.5 L453.0 69.5 L454.3 68.6 L452.7 67.4 L453.2 66.5 L454.0 65.6 L453.5 64.5 L453.6 63.5 L454.3 62.6 L454.5 61.6 L454.6 60.6 L454.2 59.5 L455.0 58.6 L454.4 57.5 L454.6 56.6 L454.8 55.6 L455.4 54.7 L455.3 53.6 L455.2 52.6 L455.8 51.7 L455.5 50.6 L455.8 49.7 L456.0 48.7 L456.1 47.7 L456.0 46.7 L456.1 45.7 L457.1 44.8 L456.0 43.6 L457.1 42.8 L456.8 41.7 L457.2 40.7 L457.2 39.6 L458.5 39.1 L459.1 39.7 L458.9 40.9 L460.0 41.5 L460.5 42.4 L460.8 43.4 L460.1 44.6 L460.5 45.5 L461.1 46.4 L460.6 47.5 L461.2 48.4 L461.5 49.4 L461.3 50.4 L461.9 51.4 L461.6 52.4 L462.1 53.4 L461.5 54.4 L461.6 55.4 L462.0 56.4 L461.6 57.4 L462.3 58.4 L462.0 59.4 L462.3 60.4 L462.7 61.3 L462.1 62.4 L461.9 63.4 L461.4 64.5 L462.6 65.4 L462.5 66.4 L462.2 67.4 L463.2 68.3 L462.4 69.4 L463.6 70.3 L463.5 71.3 L463.2 72.3 L463.3 73.3 L462.9 74.4 L463.7 75.3 L463.5 76.3 L463.6 77.3 L463.5 78.3 L463.4 79.3 L463.4 80.3 L463.7 81.3 L463.7 82.3 L463.9 83.3 L464.5 84.3 L464.7 85.3 L464.0 86.3 L464.7 87.3 L464.6 88.3 L464.3 89.3 L464.5 90.3 L464.8 91.3 L464.9 92.3 L464.6 93.3 L464.2 94.3 L465.3 95.3 L464.9 96.3 L464.5 97.3 L464.8 98.3 L465.2 99.3 L465.0 100.3 L465.0 101.3 L464.8 102.3 L465.8 103.2 L465.7 104.2 L465.4 105.3 L465.4 106.3 L465.6 107.3 L465.6 108.3 L465.6 109.3 L465.8 110.3 L465.2 111.3 L466.4 112.2 L466.4 113.2 L466.8 114.2 L466.2 115.2 L466.4 116.2 L466.7 117.2 L467.1 118.2 L466.2 119.3 L466.7 120.2 L466.7 121.2 L467.5 122.2 L467.0 123.2 L467.1 124.2 L466.8 125.2 L467.2 126.2 L467.1 127.2 L468.0 128.1 L467.7 129.2 L467.7 130.2 L467.8 131.1 L468.0 132.1 L468.2 133.1 L467.8 134.2 L468.5 135.1 L468.3 136.1 L468.4 137.1 L468.9 138.1 L468.9 139.1 L469.7 139.9 L469.6 140.9 L469.8 142.0 L470.8 142.4 L471.7 142.8 L472.0 144.0 L473.3 143.8 L473.8 145.0 L474.9 145.0 L476.0 145.1 L476.8 145.7 L477.4 146.8 L478.4 146.9 L479.4 147.2 L480.4 147.4 L481.4 147.4 L482.3 147.6 L483.3 147.8 L484.3 147.9" fill="none" stroke="#2a2a2a" stroke-width="1.3" stroke-linejoin="round"/>
<path d="M422.0 148.0 L423.0 147.9 L424.0 147.8 L425.0 147.7 L426.0 147.4 L426.9 147.2 L428.0 147.6 L428.9 146.9 L430.0 147.3 L430.9 146.8 L431.9 146.7 L432.9 146.4 L433.9 146.4 L434.9 146.1 L435.7 145.3 L436.8 145.7 L437.8 145.3 L438.7 145.0 L439.7 144.7 L440.1 143.3 L441.6 143.8 L441.7 142.3 L442.6 141.8 L443.5 141.3 L444.4 140.8 L444.9 139.9 L445.4 139.0 L446.0 138.2 L446.1 137.0 L447.0 136.4 L448.3 136.4 L447.7 134.4 L449.0 134.3 L449.7 133.5 L449.8 132.5 L450.4 131.7 L450.8 130.8 L451.1 129.8 L451.5 128.9 L451.6 127.8 L452.5 127.1 L452.4 126.0 L452.7 125.0 L454.1 124.5 L453.6 123.3 L454.0 122.3 L453.9 121.2 L455.0 120.6 L454.8 119.5 L455.0 118.6 L455.6 117.6 L455.7 116.6 L455.4 115.6 L455.9 114.6 L456.0 113.6 L456.0 112.6 L455.8 111.6 L456.4 110.7 L455.9 109.6 L456.7 108.7 L456.7 107.7 L456.4 106.6 L456.5 105.7 L457.8 104.8 L456.4 103.6 L457.3 102.7 L457.2 101.7 L457.6 100.7 L457.7 99.7 L458.0 98.8 L458.1 97.8 L457.9 96.7 L457.6 95.7 L458.0 94.8 L458.4 93.8 L458.5 92.8 L458.8 91.8 L458.5 90.8 L458.2 89.7 L458.5 88.8 L458.9 87.8 L459.2 86.8 L459.2 85.8 L459.2 84.8 L458.6 83.8 L458.9 82.8 L459.3 81.8 L459.2 80.8 L459.5 79.8 L458.8 78.8 L459.5 77.8 L458.4 76.7 L459.3 75.8 L459.6 74.8 L459.5 73.8 L460.1 72.9 L459.8 71.8 L460.0 70.8 L460.3 69.9 L459.8 68.8 L460.8 67.9 L460.1 66.8 L460.6 65.9 L460.6 64.9 L460.4 63.9 L460.7 62.9 L460.9 61.9 L460.7 60.9 L461.7 59.9 L460.6 58.9 L461.1 57.9 L461.6 56.9 L461.4 55.9 L461.7 54.9 L460.8 53.9 L461.4 52.9 L461.6 51.9 L462.1 50.9 L461.4 49.9 L461.8 48.9 L462.6 48.0 L462.1 46.9 L462.2 45.9 L462.0 44.9 L462.6 44.0 L461.5 42.9 L462.0 41.9 L462.2 40.9 L462.5 39.9 L462.5 38.9 L461.8 37.9 L462.8 37.0 L462.5 35.9 L464.1 35.1 L463.0 34.0 L463.7 33.1 L463.2 32.0 L463.5 31.0 L463.5 29.9 L464.6 29.5 L464.0 29.7 L465.5 30.2 L465.0 31.4 L465.1 32.3 L465.0 33.4 L465.9 34.2 L465.3 35.3 L466.5 36.2 L466.1 37.2 L466.5 38.2 L466.5 39.2 L466.0 40.2 L466.3 41.2 L465.5 42.3 L466.7 43.2 L467.0 44.2 L466.4 45.2 L466.8 46.2 L467.2 47.2 L466.6 48.2 L466.6 49.2 L467.8 50.1 L467.5 51.2 L467.0 52.2 L467.8 53.1 L467.0 54.2 L467.8 55.1 L467.7 56.2 L467.9 57.1 L468.4 58.1 L468.2 59.1 L468.5 60.1 L468.5 61.1 L468.0 62.1 L468.3 63.1 L468.7 64.1 L468.6 65.1 L468.3 66.1 L468.9 67.1 L469.1 68.1 L468.8 69.1 L469.3 70.1 L469.7 71.0 L468.6 72.1 L469.8 73.0 L469.4 74.1 L469.4 75.1 L469.7 76.0 L469.0 77.1 L469.1 78.1 L469.7 79.1 L470.5 80.0 L469.9 81.1 L470.7 82.0 L469.9 83.1 L469.9 84.1 L470.1 85.0 L469.9 86.1 L470.3 87.0 L470.8 88.0 L470.7 89.0 L470.3 90.1 L471.5 90.9 L470.8 92.0 L471.4 93.0 L470.3 94.1 L471.7 94.9 L472.1 95.9 L471.1 97.0 L471.2 98.0 L471.8 98.9 L471.7 100.0 L472.3 100.9 L472.0 101.9 L471.7 103.0 L472.0 104.0 L472.2 104.9 L472.5 105.9 L472.0 107.0 L471.9 108.0 L472.1 109.0 L473.1 109.9 L472.7 110.9 L473.2 111.9 L473.1 112.9 L472.9 113.9 L472.3 115.0 L473.1 115.9 L473.3 116.9 L473.6 117.9 L473.3 118.9 L474.1 119.8 L473.4 120.9 L473.4 121.9 L474.1 122.8 L473.3 123.9 L473.2 124.9 L474.2 125.8 L473.8 126.9 L474.3 127.8 L474.4 128.8 L474.0 129.9 L474.2 130.9 L474.8 131.8 L475.0 132.8 L474.6 133.8 L475.3 134.8 L475.4 135.7 L475.2 136.8 L475.4 137.8 L475.3 138.8 L475.0 139.9 L476.1 140.7 L475.4 142.0 L476.9 142.1 L477.4 143.1 L477.9 144.0 L478.6 145.0 L479.9 144.0 L480.9 145.1 L481.9 144.5 L482.8 144.6 L483.5 145.1 L483.7 146.2 L484.3 147.2 L485.6 147.2 L486.6 147.1 L487.6 147.2 L488.7 146.9 L489.6 147.6 L490.6 147.8 L491.6 147.9" fill="none" stroke="#000" stroke-width="2.0" stroke-linejoin="round"/>
<path d="M318.0 293.5 L319.0 293.5 L320.0 293.3 L321.0 293.5 L322.0 293.3 L323.0 293.1 L324.0 293.3 L325.0 293.4 L326.0 293.4 L327.0 292.5 L328.0 293.7 L329.0 293.2 L330.1 293.5 L331.0 293.0 L331.5 291.6 L332.9 292.3 L333.5 291.2 L335.1 292.4 L335.8 291.4 L336.4 290.4 L336.9 289.2 L338.2 289.5 L339.2 289.2 L339.5 287.6 L341.9 290.1 L342.0 288.0 L343.6 288.2 L342.5 285.6 L345.1 286.8 L343.6 284.0 L344.9 283.7 L346.4 283.9 L346.8 282.8 L345.6 280.4 L347.2 280.6 L349.4 281.0 L351.0 280.9 L350.6 279.4 L350.1 277.8 L351.6 277.7 L350.4 275.6 L352.5 276.0 L351.6 273.7 L353.5 274.1 L354.0 273.3 L355.6 273.5 L355.3 271.8 L357.3 271.9 L356.4 270.2 L357.9 269.8 L358.3 268.9 L356.0 266.7 L358.4 266.8 L358.9 265.9 L358.4 264.5 L359.9 264.2 L358.8 261.9 L361.6 263.1 L362.3 262.4 L362.8 261.5 L365.8 263.1 L364.3 260.0 L364.4 258.9 L363.9 257.5 L365.5 257.2 L364.5 255.6 L367.6 256.0 L365.8 254.0 L367.1 253.5 L369.6 253.4 L369.0 252.1 L368.3 250.7 L370.0 250.3 L368.6 248.7 L370.0 248.2 L369.4 246.9 L368.7 245.6 L370.4 245.1 L371.2 244.2 L370.0 242.9 L369.3 241.8 L370.1 240.9 L368.1 239.0 L370.7 238.9 L370.4 237.7 L374.8 238.4 L371.8 236.1 L370.9 234.2 L374.8 235.6 L374.0 233.8 L374.9 233.2 L375.7 232.7 L375.9 232.6 L377.3 232.4 L376.8 235.5 L378.7 233.8 L377.7 232.2 L378.4 231.4 L377.7 230.1 L379.6 229.7 L380.5 228.9 L380.8 228.0 L381.1 227.1 L380.5 225.7 L383.2 225.7 L381.1 223.8 L381.8 223.0 L381.7 221.9 L382.5 221.1 L382.4 220.1 L385.6 219.9 L383.7 218.4 L381.2 216.7 L383.1 216.1 L382.0 214.4 L385.8 215.1 L387.0 214.6 L384.8 212.3 L385.1 213.4 L386.5 213.1 L385.9 214.3 L384.4 215.8 L387.6 215.9 L389.1 216.4 L386.7 218.3 L387.4 219.2 L387.6 220.2 L387.6 221.3 L390.5 220.9 L392.9 220.4 L389.1 224.3 L391.8 223.5 L393.5 223.4 L394.0 224.1 L391.7 228.0 L393.8 227.1 L394.5 227.8 L394.5 229.1 L397.2 227.9 L398.4 228.3 L398.6 229.4 L399.6 229.9 L399.1 231.6 L400.5 231.7 L399.8 233.5 L401.1 233.7 L401.2 234.9 L400.9 236.6 L400.6 238.3 L401.2 239.2 L403.7 238.1 L404.3 238.9 L405.8 238.9 L404.5 241.2 L404.4 242.5 L407.7 241.2 L406.6 243.2 L408.4 243.3 L408.6 244.3 L408.6 245.4 L409.7 246.0 L408.6 247.8 L412.1 246.7 L411.6 248.2 L411.5 249.5 L413.2 249.6 L412.0 251.6 L414.9 250.9 L413.5 253.0 L415.9 252.6 L414.9 254.5 L414.7 255.8 L413.2 258.0 L415.1 257.9 L415.1 259.2 L417.4 258.8 L415.6 261.2 L418.8 260.3 L419.4 261.1 L421.1 261.1 L420.0 263.1 L419.7 264.5 L422.1 264.1 L422.3 265.1 L423.1 265.7 L423.6 266.5 L424.6 267.0 L426.0 267.0 L424.1 270.3 L427.9 267.7 L427.7 269.3 L427.4 271.3 L427.7 272.6 L429.5 271.9 L430.4 272.4 L430.9 273.3 L431.9 273.6 L431.8 275.4 L433.7 274.6 L434.9 274.7 L435.3 275.9 L435.5 277.2 L435.2 278.8 L435.7 279.8 L438.0 278.9 L439.5 278.6 L440.2 279.3 L438.5 283.1 L441.0 281.4 L441.3 282.8 L441.1 284.6 L443.6 283.0 L444.1 284.0 L445.1 284.3 L446.2 284.5 L445.9 286.7 L446.7 287.5 L449.0 285.2 L448.6 288.2 L450.0 287.6 L450.7 288.4 L451.6 288.8 L453.1 287.8 L453.7 289.1 L454.8 288.9 L454.8 291.7 L455.6 292.3 L457.2 290.9 L458.5 290.3 L459.0 292.4 L460.2 291.4 L460.9 293.2 L461.8 293.5 L462.9 293.5 L464.2 292.1 L465.2 291.8 L466.2 292.3 L467.1 292.9 L468.1 292.5 L469.0 293.5 L470.0 293.6" fill="none" stroke="#8a8a8a" stroke-width="1.1" stroke-linejoin="round" stroke-dasharray="1.5 0.5"/>
<path d="M355.0 293.5 L356.0 293.3 L357.2 293.8 L357.9 292.8 L359.0 292.9 L360.1 293.7 L360.8 291.9 L361.8 291.9 L362.9 292.2 L363.8 291.7 L364.7 290.9 L365.8 291.4 L366.7 291.0 L367.9 291.4 L368.3 289.4 L369.5 289.8 L370.9 290.9 L372.2 291.0 L371.6 288.2 L373.4 288.9 L373.4 287.3 L374.2 286.7 L375.0 286.0 L376.0 285.7 L377.5 286.0 L378.1 285.1 L378.5 284.1 L379.0 283.1 L380.0 282.7 L380.7 282.0 L382.0 282.0 L381.9 280.4 L383.1 280.2 L383.8 279.5 L384.5 278.7 L385.3 278.1 L385.9 277.3 L387.4 277.3 L387.0 275.6 L388.9 275.9 L388.1 273.9 L389.0 273.2 L390.1 273.8 L391.1 274.1 L392.1 274.0 L392.9 275.2 L393.4 275.1 L394.6 275.2 L395.2 274.1 L395.9 273.5 L397.7 273.7 L397.4 272.2 L396.8 270.4 L397.9 270.0 L398.7 269.3 L400.7 269.9 L400.5 268.2 L403.0 269.3 L402.5 267.4 L402.8 266.2 L403.0 265.1 L404.8 265.3 L404.4 263.7 L404.5 262.5 L406.3 262.6 L406.4 261.4 L407.9 261.1 L407.2 259.6 L405.1 257.5 L408.9 258.2 L406.9 256.1 L410.5 256.8 L411.2 255.9 L409.5 254.1 L409.1 252.9 L409.3 251.9 L411.7 251.7 L411.1 250.4 L411.0 249.4 L411.7 248.5 L414.3 248.5 L413.0 246.9 L413.8 246.2 L414.3 245.3 L415.0 244.6 L415.5 243.7 L414.2 241.9 L415.1 241.3 L415.0 240.1 L415.4 239.3 L417.6 239.1 L416.3 237.5 L417.1 236.7 L416.8 235.5 L417.3 234.6 L419.1 234.3 L418.2 232.8 L418.5 231.9 L420.0 231.5 L420.4 230.6 L421.2 229.8 L421.0 228.6 L419.3 226.7 L422.4 227.0 L422.6 226.0 L423.5 225.3 L421.9 223.6 L425.9 224.0 L422.2 221.6 L424.6 221.4 L424.3 220.2 L424.0 219.1 L425.8 218.7 L424.9 217.3 L423.0 215.5 L424.7 215.0 L426.8 214.8 L429.1 214.6 L425.4 212.1 L427.3 211.8 L429.3 211.4 L428.7 210.2 L428.0 208.8 L427.2 207.3 L427.2 206.2 L428.9 205.8 L429.8 205.2 L429.2 200.6 L433.0 204.0 L431.1 206.1 L432.3 206.7 L432.8 206.6 L432.2 207.0 L432.2 205.9 L434.8 206.4 L435.7 207.6 L436.1 208.6 L435.9 205.8 L435.9 205.7 L435.5 206.8 L435.5 207.9 L436.2 208.7 L436.8 209.5 L439.3 209.6 L440.8 210.1 L438.3 212.2 L439.8 212.6 L440.2 213.6 L441.5 214.1 L442.4 214.8 L439.7 217.0 L441.2 217.4 L443.0 218.0 L441.7 219.3 L441.9 220.3 L441.9 221.3 L440.4 222.5 L442.7 223.2 L444.1 224.0 L443.0 225.2 L444.0 225.9 L443.0 227.2 L443.7 228.1 L443.8 229.1 L445.0 229.8 L444.3 231.0 L445.5 231.7 L444.8 233.0 L446.0 233.6 L447.3 234.2 L446.0 235.8 L447.6 236.2 L445.8 238.1 L447.2 238.5 L447.6 239.5 L448.4 240.2 L449.0 241.0 L451.8 240.8 L448.6 243.4 L451.1 243.3 L449.8 245.1 L451.7 245.3 L451.6 246.4 L452.0 247.3 L453.2 248.0 L452.7 249.2 L452.4 250.4 L453.6 251.0 L454.7 251.7 L454.4 252.8 L454.0 254.1 L453.6 255.3 L454.2 256.1 L455.1 256.9 L456.6 257.4 L455.2 259.0 L456.4 259.6 L456.9 260.5 L456.3 261.8 L456.9 262.6 L457.3 263.5 L459.1 263.8 L459.1 264.9 L460.5 265.3 L459.3 267.0 L459.9 267.9 L459.6 269.1 L460.6 269.7 L461.6 270.4 L460.0 272.7 L463.2 271.4 L464.1 271.9 L464.3 273.1 L464.2 274.6 L465.5 274.7 L466.3 275.4 L467.5 275.6 L466.4 278.1 L468.5 277.4 L469.5 277.8 L469.6 279.1 L470.7 279.4 L471.1 280.5 L470.8 282.2 L472.6 281.7 L473.1 282.7 L474.0 283.2 L474.6 284.0 L474.7 285.4 L475.6 285.9 L476.8 286.0 L477.9 286.3 L478.2 287.4 L478.5 288.6 L479.7 288.7 L480.6 289.3 L482.1 288.9 L481.7 291.3 L483.3 289.8 L484.2 290.3 L485.0 291.2 L485.9 291.7 L486.9 292.0 L488.0 291.7 L488.9 292.2 L489.9 292.3 L491.0 291.7 L491.8 292.8 L492.8 292.7 L493.7 293.5 L494.7 293.4" fill="none" stroke="#3a3a3a" stroke-width="1.1" stroke-linejoin="round"/>
<path d="M340.0 293.5 L341.0 293.5 L342.0 293.3 L342.9 292.7 L343.8 291.7 L345.0 293.6 L346.0 293.6 L346.9 291.9 L348.1 293.8 L348.9 292.4 L350.1 293.8 L351.0 292.9 L351.9 292.3 L353.0 293.2 L354.0 292.5 L355.0 292.4 L356.0 292.3 L356.9 292.1 L358.0 292.6 L359.0 292.7 L360.0 292.3 L361.0 293.2 L361.9 291.1 L362.9 291.6 L364.0 292.4 L364.9 291.1 L366.0 292.8 L367.0 292.2 L367.9 291.6 L369.0 292.0 L369.8 291.2 L370.5 290.3 L372.0 291.4 L373.0 291.1 L373.7 290.2 L374.6 289.8 L375.0 288.0 L376.3 288.5 L377.3 288.4 L378.4 288.6 L379.7 289.0 L380.1 287.3 L380.9 286.8 L382.4 287.7 L383.0 286.5 L383.6 285.2 L385.3 286.9 L385.7 284.9 L386.8 285.0 L387.7 284.5 L388.9 285.5 L389.9 286.0 L390.8 284.6 L391.8 285.2 L392.7 284.3 L393.4 286.6 L394.5 286.3 L395.3 284.4 L396.6 284.7 L397.6 284.4 L398.2 283.5 L398.5 282.1 L399.6 282.0 L400.9 282.1 L401.6 281.4 L402.1 280.0 L403.4 280.8 L403.9 279.2 L404.6 277.9 L406.2 279.6 L407.4 279.9 L408.2 279.1 L409.5 279.5 L410.5 279.3 L410.8 277.7 L411.3 276.4 L412.5 276.5 L412.7 274.9 L414.1 275.4 L414.8 274.7 L415.7 274.1 L417.0 274.0 L415.6 271.2 L418.2 272.4 L418.0 270.8 L419.6 271.0 L419.9 269.9 L419.8 268.4 L421.8 269.0 L421.4 267.3 L422.8 267.0 L422.4 265.7 L422.9 264.8 L423.8 264.1 L425.7 264.0 L425.2 262.6 L425.1 261.4 L426.9 261.2 L426.0 259.6 L426.2 258.6 L426.1 257.4 L427.5 257.0 L427.9 256.1 L427.6 254.9 L427.0 253.6 L428.8 253.2 L429.4 252.4 L429.4 251.3 L429.2 250.2 L429.5 249.2 L430.4 248.5 L432.3 248.2 L431.7 246.8 L430.5 245.3 L432.8 245.2 L432.4 243.8 L435.5 244.9 L433.8 242.3 L434.6 241.7 L435.4 241.0 L436.0 240.2 L436.2 239.2 L436.6 238.2 L436.7 237.2 L436.8 236.2 L437.4 235.3 L437.1 234.1 L438.1 233.5 L438.4 232.5 L438.9 231.7 L439.2 230.7 L439.8 229.9 L440.7 229.1 L440.4 227.9 L441.1 227.1 L441.6 226.2 L441.4 225.1 L441.9 224.2 L442.7 223.5 L441.1 221.8 L443.7 221.7 L443.0 220.4 L440.3 218.5 L444.5 218.8 L443.2 217.3 L445.4 217.0 L443.9 215.5 L444.9 214.7 L446.1 214.0 L444.9 212.6 L445.0 211.6 L446.2 210.9 L448.3 211.1 L448.5 210.1 L449.4 209.5 L448.9 207.8 L449.3 206.8 L449.9 205.9 L449.6 204.8 L448.6 203.6 L450.2 202.9 L449.2 201.7 L449.0 200.7 L450.1 199.8 L450.3 198.9 L451.7 198.4 L451.4 197.2 L451.1 195.9 L451.9 195.2 L451.7 194.0 L452.4 193.2 L454.5 193.1 L454.0 191.8 L453.7 190.4 L454.4 189.7 L454.8 188.7 L455.9 188.2 L455.8 185.9 L458.3 188.4 L458.6 186.7 L459.4 188.1 L459.7 188.8 L461.0 188.3 L463.0 188.2 L463.6 189.0 L461.8 190.9 L462.2 191.7 L464.3 192.4 L464.0 193.4 L462.3 194.6 L463.2 195.5 L461.6 196.6 L463.0 197.5 L462.7 198.5 L463.7 199.5 L464.3 200.2 L465.8 200.6 L467.6 200.8 L464.0 203.7 L464.8 204.4 L466.6 204.7 L465.3 206.1 L467.9 206.6 L465.3 208.1 L466.5 208.9 L465.6 210.1 L468.9 210.5 L466.2 212.0 L466.8 212.9 L467.5 213.8 L468.7 214.6 L467.8 215.8 L468.1 216.7 L469.0 217.6 L469.8 218.5 L469.6 219.6 L469.3 220.6 L468.0 221.8 L468.1 222.8 L467.8 223.8 L468.9 224.7 L470.6 225.5 L470.1 226.5 L470.6 227.5 L470.0 228.6 L468.7 229.7 L470.2 230.6 L470.5 231.5 L469.8 232.6 L469.8 233.6 L469.7 234.7 L471.4 235.4 L471.5 236.4 L471.3 237.5 L470.5 238.6 L471.0 239.5 L472.1 240.4 L470.0 241.7 L472.0 242.4 L471.8 243.5 L472.0 244.5 L472.7 245.4 L472.2 246.4 L472.2 247.4 L472.2 248.5 L472.3 249.5 L473.1 250.3 L473.6 251.2 L472.2 252.5 L473.5 253.3 L472.6 254.5 L473.3 255.4 L471.8 256.7 L474.1 257.3 L475.5 258.0 L474.7 259.2 L473.7 260.4 L473.4 261.5 L473.7 262.4 L474.7 263.3 L474.2 264.4 L476.4 264.9 L476.3 266.0 L476.8 266.9 L476.0 268.1 L475.7 269.2 L476.9 270.0 L476.9 271.0 L477.8 271.8 L477.9 272.8 L477.8 273.8 L477.1 275.1 L478.1 275.9 L478.4 276.8 L478.4 277.9 L479.1 278.7 L480.5 279.2 L479.2 280.9 L480.9 281.2 L481.2 282.2 L481.6 283.1 L481.6 284.3 L482.7 284.7 L483.0 285.8 L482.8 287.2 L484.9 286.8 L486.1 287.1 L485.1 289.4 L486.4 289.4 L487.1 290.3 L487.9 290.8 L489.1 290.8 L489.9 291.5 L491.3 290.8 L491.8 292.2 L492.6 292.7 L493.8 292.3 L494.7 292.9 L495.5 293.5" fill="none" stroke="#000" stroke-width="2.1" stroke-linejoin="round"/>
<path d="M312.0 435.3 L313.0 434.9 L314.0 434.9 L315.0 435.1 L316.0 434.3 L317.0 434.8 L318.0 434.7 L318.9 433.4 L320.1 435.3 L321.1 434.7 L321.7 433.5 L322.8 433.5 L323.9 433.7 L324.7 432.8 L325.6 432.5 L325.9 431.1 L327.7 432.1 L328.3 431.2 L329.2 430.8 L329.1 428.8 L331.7 430.9 L331.7 429.1 L332.1 428.0 L334.5 429.1 L333.7 426.9 L333.4 425.1 L334.9 425.2 L334.0 423.2 L337.4 424.6 L336.7 422.9 L336.9 421.9 L339.1 422.1 L337.2 419.7 L339.7 420.2 L337.8 417.8 L339.6 417.8 L339.5 416.7 L342.4 416.8 L343.1 416.0 L341.4 414.3 L342.9 413.8 L342.2 412.4 L343.4 411.8 L342.3 410.3 L341.7 408.9 L342.0 407.9 L344.9 408.2 L347.4 408.3 L345.6 406.3 L345.2 405.0 L348.4 405.3 L346.8 403.5 L347.0 402.5 L347.6 401.7 L347.5 400.6 L347.6 399.5 L346.6 398.1 L349.3 398.0 L348.9 396.8 L350.8 396.4 L349.2 394.8 L347.7 393.3 L350.2 393.0 L352.6 392.8 L350.4 391.0 L350.1 389.9 L350.1 388.8 L350.6 387.9 L351.8 387.3 L351.0 385.9 L354.7 386.1 L352.8 384.4 L353.6 383.6 L355.6 383.2 L356.0 382.3 L354.1 380.6 L355.1 379.9 L356.0 379.3 L355.3 377.8 L354.3 374.4 L358.0 378.1 L359.3 377.6 L359.2 376.0 L357.8 374.0 L359.3 373.7 L359.2 372.5 L360.0 371.8 L362.8 372.1 L363.6 371.3 L362.8 369.8 L363.0 368.8 L363.6 368.0 L363.0 366.6 L363.4 365.7 L363.0 364.2 L364.5 364.0 L368.6 365.6 L367.0 363.3 L365.7 361.1 L366.3 360.1 L366.5 358.8 L369.0 360.2 L369.4 359.9 L371.8 356.5 L370.2 360.8 L372.3 359.4 L373.9 364.0 L373.0 360.1 L375.8 360.2 L372.9 357.8 L373.6 357.0 L374.9 356.5 L376.5 356.1 L376.1 354.9 L373.7 352.6 L376.4 352.8 L376.6 351.8 L376.3 350.5 L377.9 348.5 L375.1 352.5 L379.0 351.7 L380.1 352.2 L378.2 354.3 L379.5 354.8 L380.3 355.5 L379.4 357.1 L380.3 357.7 L380.9 358.5 L380.4 359.9 L381.9 360.3 L383.8 360.5 L383.8 361.6 L384.5 362.3 L383.8 363.8 L386.2 363.7 L387.8 364.1 L385.3 366.4 L387.9 366.2 L389.2 366.9 L386.2 369.3 L388.1 369.6 L386.8 371.2 L388.6 371.6 L389.7 372.2 L390.3 373.0 L389.6 374.4 L389.6 375.4 L390.7 376.1 L390.3 377.3 L392.4 377.6 L390.6 379.3 L393.4 379.4 L391.6 381.1 L390.8 382.5 L390.6 383.6 L390.1 384.9 L394.9 383.9 L392.2 386.3 L392.1 387.5 L392.9 388.2 L395.8 387.9 L394.5 389.7 L393.1 391.5 L397.9 390.2 L395.8 392.4 L395.4 393.7 L398.2 393.3 L397.1 395.1 L399.7 394.8 L399.8 395.9 L400.3 396.7 L399.6 398.3 L400.3 399.1 L399.4 400.3 L401.7 400.8 L401.0 402.0 L400.1 403.2 L400.8 404.1 L403.0 404.6 L401.2 406.1 L402.6 406.7 L402.0 407.9 L402.3 408.9 L401.6 410.2 L403.1 410.7 L405.7 410.6 L405.6 411.8 L403.8 413.7 L405.3 414.1 L404.3 415.8 L405.7 416.2 L407.4 416.0 L406.4 418.4 L408.8 417.4 L410.7 417.0 L407.9 421.7 L411.6 417.7 L410.9 421.2 L411.7 422.0 L413.0 421.5 L415.1 420.0 L414.1 423.4 L416.6 421.5 L417.4 422.2 L417.5 423.7 L417.6 425.4 L418.7 425.5 L419.5 426.5 L420.9 425.4 L421.8 426.0 L423.1 425.3 L423.7 426.5 L424.3 427.8 L425.6 427.2 L426.2 428.5 L427.6 427.9 L428.5 428.3 L429.1 429.4 L430.1 429.6 L430.7 430.8 L431.8 430.6 L432.4 432.4 L433.8 430.7 L434.8 431.0 L436.0 430.4 L436.7 431.7 L437.5 432.5 L438.8 431.4 L439.6 432.2 L440.6 433.0 L441.6 432.3 L442.7 432.1 L443.5 433.5 L444.6 432.8 L445.6 433.2 L446.5 434.0 L447.5 434.0 L448.6 432.8 L449.6 432.8 L450.6 433.6 L451.6 433.3 L452.7 432.0 L453.5 434.7 L454.6 433.7 L455.5 434.4 L456.6 433.0 L457.4 435.0 L458.6 433.7 L459.5 434.2 L460.7 433.4 L461.5 434.4 L462.5 434.5 L463.5 434.7 L464.5 435.0" fill="none" stroke="#8a8a8a" stroke-width="1.1" stroke-linejoin="round" stroke-dasharray="1.5 0.5"/>
<path d="M322.0 435.0 L323.1 435.4 L323.7 433.3 L324.8 433.5 L325.7 432.7 L327.2 435.4 L328.1 435.3 L329.2 435.4 L330.1 434.2 L331.1 433.6 L330.8 431.6 L333.2 432.9 L332.2 430.3 L333.2 429.9 L334.2 429.4 L334.6 428.5 L336.4 429.0 L336.5 427.5 L337.3 427.0 L338.0 426.2 L339.8 426.8 L339.2 424.6 L340.2 424.2 L341.3 423.8 L340.2 421.7 L341.8 421.7 L343.3 421.6 L344.5 421.2 L344.2 419.8 L344.1 418.4 L346.6 419.1 L345.7 417.1 L346.6 416.5 L347.4 415.9 L347.8 414.9 L347.9 413.8 L349.5 413.8 L348.5 411.7 L349.8 411.4 L350.5 410.7 L350.6 409.5 L352.3 409.5 L352.9 408.8 L353.5 408.0 L353.9 407.0 L355.2 406.8 L357.1 407.0 L357.0 405.6 L353.1 401.4 L358.4 404.1 L355.7 400.8 L356.4 400.1 L359.1 400.9 L358.0 398.8 L361.9 400.6 L361.6 399.0 L360.4 396.9 L360.1 395.4 L363.0 396.3 L364.6 396.3 L363.9 394.5 L366.6 395.3 L365.6 393.3 L366.5 392.7 L365.8 390.9 L367.2 390.8 L367.1 389.4 L365.6 387.1 L371.6 390.1 L368.9 387.0 L369.7 386.4 L371.8 386.5 L370.8 384.7 L371.5 383.9 L372.3 383.3 L370.8 381.1 L374.8 382.5 L373.8 380.7 L373.1 379.0 L375.7 379.5 L375.5 378.2 L374.3 376.2 L376.3 376.3 L376.6 375.4 L377.6 374.8 L378.2 373.9 L379.1 373.3 L376.9 371.1 L379.0 371.0 L378.2 369.5 L380.6 369.5 L378.5 367.5 L377.8 366.4 L380.4 366.2 L384.7 366.6 L383.1 365.0 L382.0 363.6 L385.6 363.8 L382.3 361.6 L382.8 360.7 L384.7 360.5 L384.4 359.2 L384.4 357.9 L385.5 358.7 L385.4 359.8 L384.2 361.5 L388.0 360.8 L387.6 362.1 L385.1 364.4 L384.0 365.9 L390.3 364.3 L387.6 366.5 L386.4 368.0 L389.2 368.0 L390.1 368.7 L388.0 370.6 L390.7 370.6 L391.3 371.4 L391.6 372.2 L393.3 372.3 L395.2 372.2 L390.9 376.3 L390.7 377.6 L393.3 377.1 L394.4 377.6 L394.0 379.0 L395.5 379.2 L398.1 378.7 L397.9 380.0 L396.3 382.3 L398.0 382.4 L400.0 382.2 L400.4 383.3 L397.8 386.0 L401.5 384.9 L400.6 389.0 L401.1 386.2 L399.7 384.4 L401.0 383.9 L402.1 383.3 L402.8 382.6 L403.0 381.9 L401.3 382.5 L402.2 383.1 L404.0 383.7 L403.9 384.8 L404.9 385.6 L404.7 386.7 L404.2 387.8 L407.1 388.2 L404.6 389.7 L405.0 390.7 L405.4 391.6 L406.8 392.4 L406.2 393.5 L406.1 393.2 L406.4 393.8 L404.2 390.7 L407.3 392.0 L408.9 392.0 L407.9 389.9 L408.5 389.0 L411.0 390.3 L407.5 391.7 L410.3 390.4 L410.6 391.4 L411.5 392.1 L411.0 393.3 L411.5 394.2 L413.5 394.7 L412.3 396.1 L412.0 397.2 L414.1 397.6 L413.3 399.0 L412.8 400.6 L413.7 401.2 L415.4 401.3 L413.6 403.7 L415.3 403.7 L417.3 403.6 L419.5 401.9 L418.9 404.4 L419.4 405.5 L420.7 405.2 L421.3 406.2 L423.1 408.4 L423.6 406.8 L424.9 407.3 L424.3 402.7 L426.0 404.5 L426.1 406.3 L428.4 404.5 L426.0 407.3 L430.0 405.8 L429.9 407.1 L428.1 409.5 L432.6 407.7 L430.0 410.6 L432.7 410.1 L433.1 411.0 L432.5 412.6 L433.1 413.4 L433.1 414.6 L434.3 415.0 L435.0 415.7 L436.4 416.0 L435.6 417.7 L438.7 416.8 L436.4 419.6 L437.3 420.2 L436.9 421.8 L437.7 422.9 L440.4 420.5 L440.2 423.2 L441.8 422.1 L442.5 422.9 L442.8 424.7 L443.8 424.8 L444.7 425.3 L445.9 425.1 L446.7 425.9 L448.2 425.0 L448.9 425.9 L449.2 427.6 L450.8 426.2 L451.5 427.1 L452.0 428.8 L453.2 428.3 L454.4 427.8 L455.0 429.3 L455.9 430.5 L457.1 428.2 L458.1 427.6 L459.1 429.3 L460.1 428.3 L461.0 428.8 L462.0 428.5 L462.9 428.0 L464.0 428.7 L465.1 428.8 L465.8 427.3 L466.9 429.4 L467.4 429.9 L468.9 428.8 L469.7 429.6 L470.0 431.2 L472.1 429.2 L472.8 429.9 L473.4 430.8 L474.3 431.2 L475.2 432.0 L476.3 431.7 L477.5 429.9 L478.2 432.7 L479.2 432.9 L480.4 431.1 L481.2 432.6 L482.3 431.7 L483.3 432.0 L484.3 431.9 L485.1 433.9 L486.3 432.0 L487.2 432.8 L488.1 433.4 L489.3 432.5 L490.2 433.2 L491.2 433.5 L491.9 435.1 L493.3 433.1 L494.1 434.2" fill="none" stroke="#3a3a3a" stroke-width="1.2" stroke-linejoin="round"/>
<path d="M318.0 435.0 L319.0 434.9 L319.9 434.1 L321.0 434.7 L322.0 434.3 L322.9 434.2 L323.9 433.3 L324.9 434.0 L325.9 434.0 L326.8 433.4 L328.0 434.1 L329.2 434.6 L329.8 433.2 L330.9 433.2 L332.1 433.8 L332.7 432.4 L334.0 433.0 L334.2 430.7 L335.3 430.9 L336.9 431.1 L337.2 430.0 L337.6 428.9 L338.8 428.8 L339.2 427.7 L340.0 427.1 L340.1 425.8 L341.2 425.5 L342.0 424.9 L342.2 423.6 L341.7 421.7 L343.9 422.5 L346.5 423.7 L343.3 419.1 L345.3 419.7 L346.6 419.6 L347.7 419.2 L349.1 419.0 L349.6 418.1 L350.5 417.5 L351.1 416.8 L349.9 414.6 L351.0 414.2 L351.2 413.1 L352.7 413.0 L352.5 411.6 L352.6 410.4 L355.9 411.9 L354.7 409.4 L354.9 408.3 L357.0 408.9 L355.8 406.3 L357.2 406.2 L357.7 405.3 L357.1 403.4 L357.2 401.9 L360.4 403.9 L360.8 402.6 L361.6 402.0 L363.6 403.2 L363.1 400.6 L366.1 403.3 L364.1 398.5 L363.5 397.2 L366.7 399.1 L368.0 398.8 L369.9 399.0 L368.2 396.5 L368.9 395.7 L369.7 395.1 L373.2 396.5 L369.1 392.1 L372.1 393.1 L372.3 392.0 L371.7 390.5 L372.9 390.1 L374.0 389.5 L373.3 388.0 L374.8 387.7 L376.1 387.3 L376.7 386.5 L375.8 384.8 L376.6 384.1 L377.6 383.6 L379.2 383.6 L379.0 382.2 L380.9 382.4 L380.6 381.1 L380.3 377.0 L381.7 382.1 L382.9 378.9 L383.6 381.3 L384.8 380.5 L384.7 382.5 L386.4 381.7 L387.1 382.4 L389.6 382.3 L386.4 384.6 L388.3 385.0 L389.1 385.8 L387.5 387.4 L388.7 388.2 L389.7 388.8 L390.4 389.7 L391.7 389.5 L393.4 388.2 L394.8 388.8 L393.0 391.8 L393.4 392.8 L394.5 393.2 L395.3 393.9 L395.1 395.2 L395.5 396.2 L397.0 396.8 L399.0 396.8 L399.4 395.7 L398.4 393.8 L400.5 394.1 L400.7 391.2 L403.2 392.1 L400.5 395.1 L402.2 395.1 L400.2 397.7 L404.2 396.2 L402.4 398.7 L404.3 398.3 L404.8 399.5 L406.6 397.9 L405.1 403.4 L407.9 400.0 L407.1 403.7 L409.5 401.2 L411.2 400.0 L411.8 401.0 L411.2 404.5 L413.4 402.2 L413.9 403.6 L413.9 405.8 L415.0 405.8 L417.3 403.5 L417.7 404.9 L417.3 407.8 L419.6 405.5 L419.5 408.0 L420.9 407.4 L422.8 405.9 L422.9 408.5 L423.1 406.9 L424.4 407.0 L424.3 405.4 L426.3 406.0 L426.4 404.6 L426.6 405.8 L428.8 404.3 L428.5 405.8 L427.9 407.6 L428.4 408.5 L429.3 409.2 L430.3 410.1 L432.2 408.2 L432.7 410.2 L433.6 410.7 L434.8 410.3 L436.1 410.4 L436.3 408.5 L438.0 409.6 L438.3 407.8 L439.7 407.3 L441.1 407.0 L440.3 410.8 L442.8 408.4 L443.6 409.4 L444.8 409.7 L442.4 413.7 L443.2 414.2 L446.3 412.5 L447.9 412.3 L447.7 414.0 L448.3 414.8 L448.8 415.7 L448.8 417.1 L450.3 416.2 L450.5 417.2 L451.7 417.2 L452.6 416.7 L453.4 416.2 L453.7 414.6 L454.9 414.6 L455.0 416.2 L457.4 415.2 L456.2 417.8 L458.0 417.2 L458.3 419.2 L460.3 416.1 L460.4 419.2 L461.7 418.3 L462.0 420.6 L463.4 419.4 L464.8 418.7 L465.0 421.2 L466.6 419.5 L467.7 419.4 L468.5 419.9 L469.6 420.5 L470.5 421.2 L471.2 421.9 L471.1 423.9 L471.8 424.5 L472.5 425.3 L473.0 426.5 L474.6 425.8 L475.8 425.8 L477.3 425.5 L477.6 426.8 L478.1 427.8 L478.1 429.3 L480.0 428.7 L479.3 430.8 L480.1 431.4 L481.9 431.0 L482.6 431.6 L483.4 432.2 L484.5 431.7 L485.5 431.6 L486.4 432.3 L487.2 433.3 L488.6 431.2 L489.2 433.7 L490.1 434.6 L491.2 434.4 L492.1 434.8 L493.4 432.5 L494.3 433.0 L495.1 435.1 L496.2 434.3 L497.0 435.1 L498.1 434.7 L499.0 435.2" fill="none" stroke="#000" stroke-width="2.2" stroke-linejoin="round"/>
<line x1="294.5" y1="453.8" x2="503" y2="453.8" stroke="#000" stroke-width="1.6"/>
<path d="M502.5 450 L510.8 453.8 L502.5 457.6 Z" fill="#000"/>
<text x="342.8" y="477" font-size="15.45" fill="#000">Annexin V binding</text>
</svg>
</body></html>
